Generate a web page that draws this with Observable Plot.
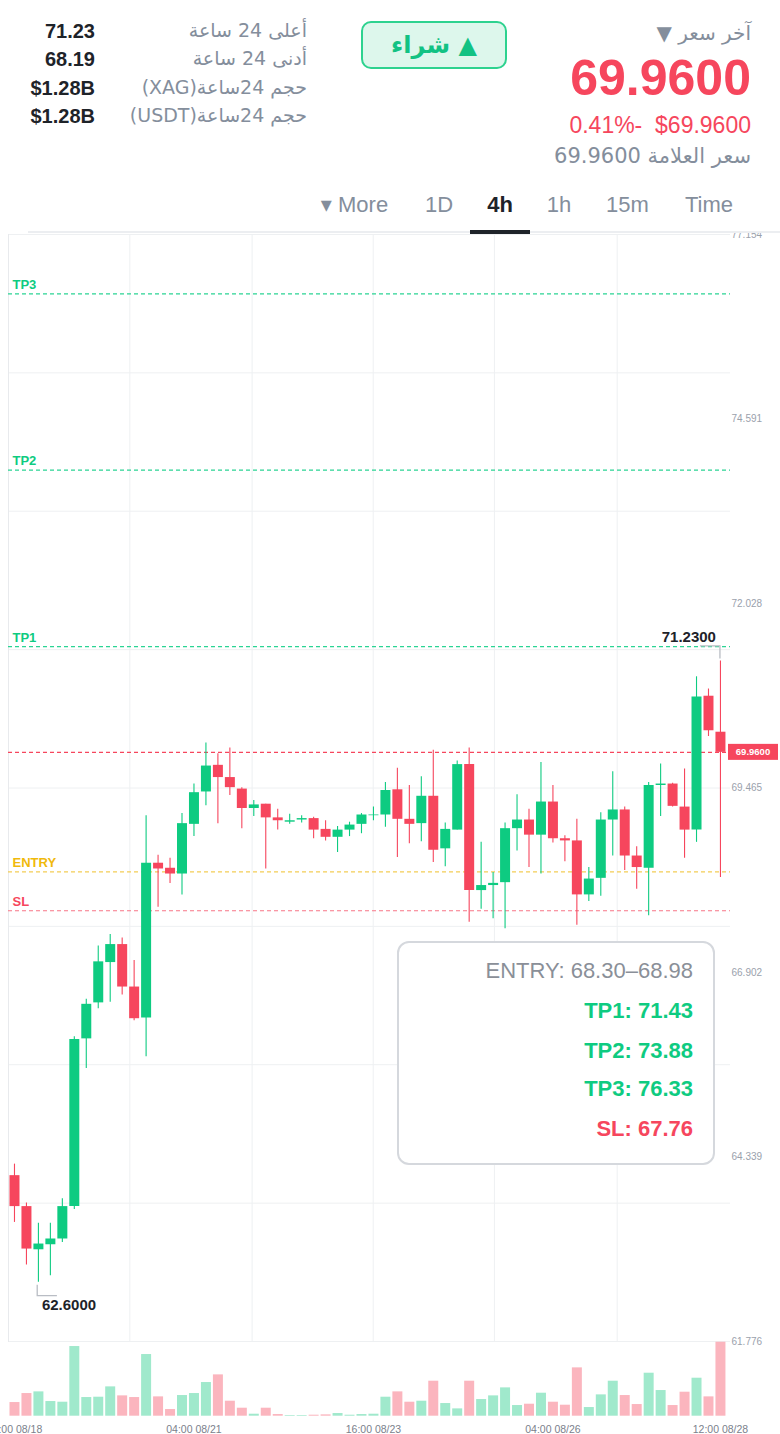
<!DOCTYPE html>
<html><head><meta charset="utf-8">
<script src="https://cdn.jsdelivr.net/npm/d3@7"></script>
<script src="https://cdn.jsdelivr.net/npm/@observablehq/plot@0.6"></script>
<style>
body{margin:0;background:#fff;font-family:"Liberation Sans","DejaVu Sans",Arial,sans-serif;}
#page{position:relative;width:780px;height:1434px;overflow:hidden;background:#fff;}
.abs{position:absolute;white-space:nowrap;line-height:1;}
.r{text-align:right;}
.val{font-weight:bold;font-size:20px;color:#1e2329;right:685px;}
.lab{font-size:19px;color:#848e9c;right:473px;font-family:"DejaVu Sans","Liberation Sans",sans-serif;}
.tab{font-size:22px;color:#848e9c;transform:translateX(-50%);}
.box{position:absolute;left:397px;top:941px;width:318px;height:224px;border:2px solid #d5d8dd;border-radius:12px;background:#fff;box-sizing:border-box;}
.bl{position:absolute;right:20px;font-size:22px;line-height:1;white-space:nowrap;}
</style></head>
<body><div id="page"></div>
<script>
// ---- data ----
const openP  = [64.08,63.65,63.05,63.12,63.20,63.65,65.98,66.48,67.04,67.29,66.70,66.27,68.42,68.35,68.27,68.96,69.41,69.78,69.61,69.45,
                69.18,69.24,69.05,68.99,69.02,69.04,68.89,68.78,68.88,68.96,69.08,69.09,69.44,69.03,68.97,69.35,68.62,68.88,69.79,68.04,
                68.11,68.15,68.90,69.02,68.81,69.27,68.76,68.73,67.98,68.21,69.02,69.16,68.52,68.35,69.50,69.52,69.20,68.88,70.74,70.24];
const highP  = [64.24,63.70,63.42,63.42,63.76,66.01,66.53,67.27,67.43,67.38,67.07,69.08,68.53,68.49,69.11,69.52,70.09,69.94,70.02,69.47,
                69.29,69.24,69.17,69.10,69.08,69.06,69.01,68.93,68.99,69.11,69.20,69.54,69.74,69.50,69.62,69.99,68.98,69.84,70.02,68.71,
                68.29,68.98,69.37,69.17,69.82,69.50,68.80,69.03,68.36,69.12,69.69,69.20,68.65,69.54,69.80,69.53,69.73,71.01,70.84,71.23];
const lowP   = [63.43,62.84,62.60,62.69,63.15,63.61,65.57,66.40,66.49,66.59,66.23,65.73,67.81,68.14,67.98,68.79,69.22,68.97,69.36,68.90,
                69.07,68.34,68.88,68.96,68.98,68.76,68.73,68.57,68.79,68.83,69.01,68.92,68.50,68.69,68.72,68.43,68.37,68.88,67.60,67.78,
                67.65,67.51,68.59,68.36,68.27,68.70,68.44,67.56,67.89,67.96,68.52,68.32,68.06,67.69,69.07,69.20,68.49,68.71,70.18,68.22];
const closeP = [63.65,63.06,63.13,63.20,63.65,65.97,66.46,67.05,67.29,66.70,66.26,68.42,68.34,68.27,68.97,69.40,69.77,69.61,69.47,69.18,
                69.23,69.05,69.01,69.01,69.04,68.88,68.78,68.88,68.95,69.09,69.09,69.43,69.03,68.96,69.35,68.60,68.89,69.79,68.04,68.11,
                68.14,68.90,69.02,68.81,69.27,68.76,68.73,67.98,68.20,69.02,69.16,68.52,68.36,69.50,69.52,69.21,68.88,70.73,70.26,69.96];
const volume = [41,68,73,44,42,209,56,57,88,61,56,185,58,20,62,68,101,124,45,24,
                6,24,5,2,2,3,4,8,3,5,6,57,73,42,45,105,38,22,105,50,
                61,85,32,36,69,42,33,145,26,64,105,62,35,129,77,32,72,114,58,222];
const xTickIndex  = [0, 15, 30, 45, 59];
const xTickLabels = ["16:00 08/18","04:00 08/21","16:00 08/23","04:00 08/26","12:00 08/28"];
const yTicks = [61.776, 64.339, 66.902, 69.465, 72.028, 74.591, 77.154];
const gridY  = [61.776, 63.698, 65.621, 67.543, 69.465, 71.387, 73.310, 75.232, 77.154];
const gridX  = [9.64, 19.86, 29.98, 40.11, 50.37];
const levelNames  = ["TP3","TP2","TP1","ENTRY","SL"];
const levelValues = [76.33, 73.88, 71.43, 68.30, 67.76];
const entryRange  = [68.30, 68.98];
const lastPrice = 69.96;
const changePct = -0.41;
const stats = [["أعلى 24 ساعة","71.23"],["أدنى 24 ساعة","68.19"],["حجم 24ساعة(XAG)","$1.28B"],["حجم 24ساعة(USDT)","$1.28B"]];
const tabs = ["▾ More","1D","4h","1h","15m","Time"];

// ---- styles ----
const GREEN="#0ecb81", RED="#f6465d";
const GREEN_V="#a0e9cc", RED_V="#fbb5be";
const levelLine = {TP3:"#2bd494",TP2:"#2bd494",TP1:"#2bd494",ENTRY:"#f4cd56",SL:"#f77686"};
const levelText = {TP3:GREEN,TP2:GREEN,TP1:GREEN,ENTRY:"#f0b90b",SL:RED};

const candles = openP.map((o,i)=>({i, open:o, high:highP[i], low:lowP[i], close:closeP[i], vol:volume[i], up: closeP[i]>=o}));
const levels = levelNames.map((n,k)=>({name:n, value:levelValues[k]}));
const allLevels = [...levels, {name:"LAST", value:lastPrice}];

const page = document.getElementById("page");
function el(html, cls, style){const d=document.createElement("div");d.className="abs "+(cls||"");d.innerHTML=html;Object.assign(d.style,style||{});page.appendChild(d);return d;}

const xDomain = [-0.5, 59.84];
const FONT = "Liberation Sans, Arial, sans-serif";

// ---- price chart ----
const plotA = Plot.plot({
  width: 780, height: 1202,
  marginTop: 2, marginBottom: 93, marginLeft: 8, marginRight: 50,
  x: {domain: xDomain, axis: null, label: null},
  y: {domain: [61.776, 77.154], axis: null, label: null},
  style: {background: "transparent", fontFamily: FONT},
  marks: [
    Plot.ruleY(gridY, {stroke: "#eef0f2", strokeWidth: 1}),
    Plot.ruleX(gridX, {stroke: "#eef0f2", strokeWidth: 1}),
    Plot.frame({anchor: "left", stroke: "#e8eaed"}),
    Plot.ruleY(allLevels, {y: "value", stroke: d => d.name==="LAST" ? RED : levelLine[d.name], strokeDasharray: "4,3", strokeWidth: 1.2}),
    Plot.text(levels, {y: "value", text: "name", frameAnchor: "left", dx: 4, dy: -9, textAnchor: "start", fill: d => levelText[d.name], fontWeight: "bold", fontSize: 13}),
    Plot.ruleX(candles, {x: "i", y1: "low", y2: "high", stroke: d => d.up ? GREEN : RED, strokeWidth: 1.1}),
    Plot.ruleX(candles, {x: "i", y1: "open", y2: "close", stroke: d => d.up ? GREEN : RED, strokeWidth: 10}),
    Plot.axisY(yTicks, {anchor: "right", label: null, tickSize: 0, tickPadding: 1, fontSize: 10, fill: "#9aa1ac", tickFormat: d => d.toFixed(3)})
  ]
});
plotA.style.position = "absolute"; plotA.style.left = "0px"; plotA.style.top = "232px";
page.appendChild(plotA);

const xs = plotA.scale("x"), ys = plotA.scale("y");
const sA = d3.select(plotA);
// last price tag
const lx0 = xs.apply(xDomain[1]);
const lpy = ys.apply(lastPrice);
sA.append("rect").attr("x", lx0 - 2).attr("y", lpy - 8).attr("width", 50).attr("height", 16).attr("fill", RED);
sA.append("text").attr("x", lx0 + 23).attr("y", lpy).attr("dy", "0.35em").attr("text-anchor", "middle")
  .attr("fill", "#fff").attr("font-weight", "bold").attr("font-size", 9.5).attr("font-family", FONT).text(lastPrice.toFixed(4));
// high / low annotations
const hiIdx = d3.maxIndex(highP), loIdx = d3.minIndex(lowP);
const hx = xs.apply(hiIdx), hy = ys.apply(highP[hiIdx]);
sA.append("path").attr("d", `M${hx},${hy-2}V${hy-14.5}H${hx-20}`).attr("fill","none").attr("stroke","#b9bdc4").attr("stroke-width",1.3);
sA.append("text").attr("x", hx-4).attr("y", hy-18).attr("text-anchor","end").attr("font-weight","bold").attr("font-size",15)
  .attr("fill","#1e2329").attr("font-family",FONT).text(highP[hiIdx].toFixed(4));
const lxp = xs.apply(loIdx), lyp = ys.apply(lowP[loIdx]);
sA.append("path").attr("d", `M${lxp-0.7},${lyp+3}V${lyp+14}H${lxp+19}`).attr("fill","none").attr("stroke","#b9bdc4").attr("stroke-width",1.3);
sA.append("text").attr("x", lxp+4).attr("y", lyp+28).attr("text-anchor","start").attr("font-weight","bold").attr("font-size",15)
  .attr("fill","#1e2329").attr("font-family",FONT).text(lowP[loIdx].toFixed(4));

// ---- volume chart ----
const plotB = Plot.plot({
  width: 780, height: 104,
  marginTop: 11.7, marginBottom: 18.3, marginLeft: 8, marginRight: 50,
  x: {domain: xDomain, axis: null, label: null},
  y: {domain: [0, d3.max(volume)], axis: null, label: null},
  style: {background: "transparent", fontFamily: FONT},
  marks: [
    Plot.ruleX(candles, {x: "i", y1: 0, y2: "vol", stroke: d => d.up ? GREEN_V : RED_V, strokeWidth: 10}),
    Plot.axisX(xTickIndex, {label: null, tickSize: 0, tickPadding: 9, fontSize: 10.5, fill: "#7b818c", tickFormat: d => xTickLabels[xTickIndex.indexOf(d)]})
  ]
});
plotB.style.position = "absolute"; plotB.style.left = "0px"; plotB.style.top = "1330px";
page.appendChild(plotB);

// ---- header ----
const statCenters = [31, 59, 87.5, 115.7];
stats.forEach(([lab, v], k) => {
  el(v, "val r", {top: (statCenters[k] - 10) + "px"});
  const d = el(lab, "lab r", {top: (statCenters[k] - 10) + "px"}); d.dir = "rtl";
});
// buy button
const btn = el("▲ شراء", "", {left:"361px", top:"21px", width:"146px", height:"48px", boxSizing:"border-box",
  border:"2px solid #2dd28f", borderRadius:"10px", background:"#ddf7ec", color:"#12c283", fontWeight:"bold",
  fontSize:"24px", display:"flex", alignItems:"center", justifyContent:"center", fontFamily:"DejaVu Sans, Liberation Sans, sans-serif"});
btn.dir = "rtl";
// right block
const a1 = el("آخر سعر ▼", "r", {right:"29px", top:"23px", fontSize:"20px", color:"#848e9c", fontFamily:"DejaVu Sans, Liberation Sans, sans-serif"}); a1.dir="rtl";
el(lastPrice.toFixed(4), "r", {right:"29px", top:"53px", fontSize:"50px", fontWeight:"bold", color:RED});
el(Math.abs(changePct).toFixed(2) + "%-&nbsp;&nbsp;$" + lastPrice.toFixed(4), "r", {right:"29px", top:"114px", fontSize:"23px", color:RED});
const a3 = el("سعر العلامة " + lastPrice.toFixed(4), "r", {right:"29px", top:"146px", fontSize:"21px", color:"#848e9c", fontFamily:"DejaVu Sans, Liberation Sans, sans-serif"}); a3.dir="rtl";
// tabs
const tabCenters = [354.5, 439, 500, 559, 627.5, 709];
tabs.forEach((t, k) => {
  el(t, "tab", {left: tabCenters[k] + "px", top: "194px", color: t==="4h" ? "#1e2329" : "#848e9c", fontWeight: t==="4h" ? "bold" : "normal"});
});
el("", "", {left:"28px", top:"231px", width:"752px", height:"2px", background:"#eceef1"});
el("", "", {left:"470px", top:"229.5px", width:"60px", height:"4px", background:"#1e2329"});

// ---- info box ----
const box = document.createElement("div"); box.className = "box"; page.appendChild(box);
const lines = [
  {t: "ENTRY: " + entryRange[0].toFixed(2) + "–" + entryRange[1].toFixed(2), c: "#8a8f98", w: "normal", y: 28},
  {t: "TP1: " + levelValues[2].toFixed(2), c: GREEN, w: "bold", y: 67.5},
  {t: "TP2: " + levelValues[1].toFixed(2), c: GREEN, w: "bold", y: 107.7},
  {t: "TP3: " + levelValues[0].toFixed(2), c: GREEN, w: "bold", y: 145.7},
  {t: "SL: " + levelValues[4].toFixed(2), c: RED, w: "bold", y: 185.7}
];
lines.forEach(L => {
  const d = document.createElement("div"); d.className = "bl"; d.textContent = L.t;
  Object.assign(d.style, {color: L.c, fontWeight: L.w, top: (L.y - 10.8) + "px"});
  box.appendChild(d);
});
</script></body></html>
